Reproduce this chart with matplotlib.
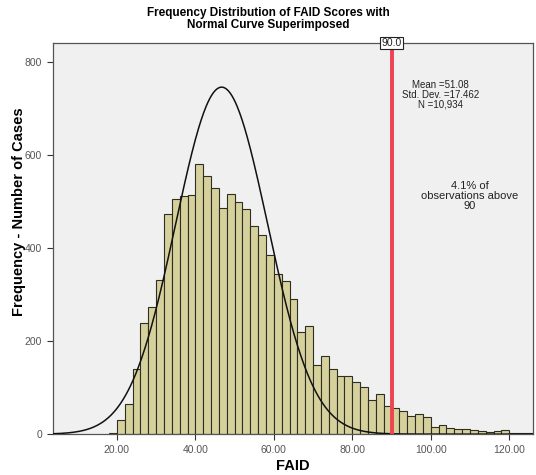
#!/usr/bin/env python3
"""
FAID score histogram with a normal curve on top (SPSS-style look).
"""

import numpy as np
import matplotlib
matplotlib.use("Agg")
import matplotlib.pyplot as plt

# bin left edges (width 2) and counts
bin_edges = list(range(18, 126, 2))
counts = [2, 30, 64, 140, 238, 274, 331, 474, 505, 511,
          514, 581, 555, 529, 487, 515, 498, 484, 448, 428,
          385, 344, 329, 291, 219, 232, 148, 167, 140, 125,
          126, 112, 101, 73, 87, 60, 57, 50, 38, 44,
          37, 16, 19, 14, 10, 10, 8, 6, 4, 6,
          9, 3, 2, 3]
bin_width = 2

# normal curve as drawn in the picture
curve_mean = 46.7
curve_sd = 11.7
n_cases = 10934

x_ticks = [20, 40, 60, 80, 100, 120]
y_ticks = [0, 200, 400, 600, 800]
cutoff = 90

plt.rcParams['font.family'] = ['Liberation Sans', 'DejaVu Sans']

fig = plt.figure(figsize=(5.36, 4.75), dpi=100)
ax = fig.add_axes([0.098, 0.086, 0.896, 0.823])
ax.set_facecolor('#f0f0f0')

ax.bar(bin_edges, counts, width=bin_width, align='edge',
       color='#d6d19c', edgecolor='#2e2e22', linewidth=0.8, zorder=2)

xs = np.linspace(0, 128, 600)
ys = n_cases * bin_width / (curve_sd * np.sqrt(2 * np.pi)) * \
    np.exp(-0.5 * ((xs - curve_mean) / curve_sd) ** 2)
ax.plot(xs, ys, color='#111111', linewidth=1.1, zorder=3)

ax.axvline(cutoff, color='#ee4350', linewidth=2.8, zorder=4)
ax.text(cutoff, 1.0, '90.0', transform=ax.get_xaxis_transform(),
        ha='center', va='center', fontsize=7.5, color='#222222', zorder=5,
        bbox=dict(boxstyle='square,pad=0.12', facecolor='white',
                  edgecolor='#222222', linewidth=0.8), clip_on=False)

ax.text(0.808, 0.906, 'Mean =51.08\nStd. Dev. =17.462\nN =10,934',
        transform=ax.transAxes, ha='center', va='top', fontsize=7,
        color='#222222', linespacing=0.95)
ax.text(0.869, 0.648, '4.1% of\nobservations above\n90',
        transform=ax.transAxes, ha='center', va='top', fontsize=8,
        color='#222222', linespacing=1.0)

ax.set_xlim(3.6, 126)
ax.set_ylim(0, 840)
ax.set_xticks(x_ticks)
ax.set_xticklabels([f'{v:.2f}' for v in x_ticks])
ax.set_yticks(y_ticks)
ax.tick_params(labelsize=7.5, labelcolor='#555555', color='#333333',
               length=4, width=0.8)

for side in ['left', 'bottom', 'right', 'top']:
    ax.spines[side].set_color('#555555')
    ax.spines[side].set_linewidth(0.9)

ax.set_xlabel('FAID', fontsize=10.5, fontweight='bold', labelpad=3)
ax.set_ylabel('Frequency - Number of Cases', fontsize=10.5,
              fontweight='bold')
ax.yaxis.set_label_coords(-0.055, 0.568)
fig.suptitle('Frequency Distribution of FAID Scores with\nNormal Curve Superimposed',
             fontsize=8.5, fontweight='bold', y=0.985, linespacing=1.0)

fig.savefig('out.png', dpi=100, facecolor='white')
plt.close(fig)
